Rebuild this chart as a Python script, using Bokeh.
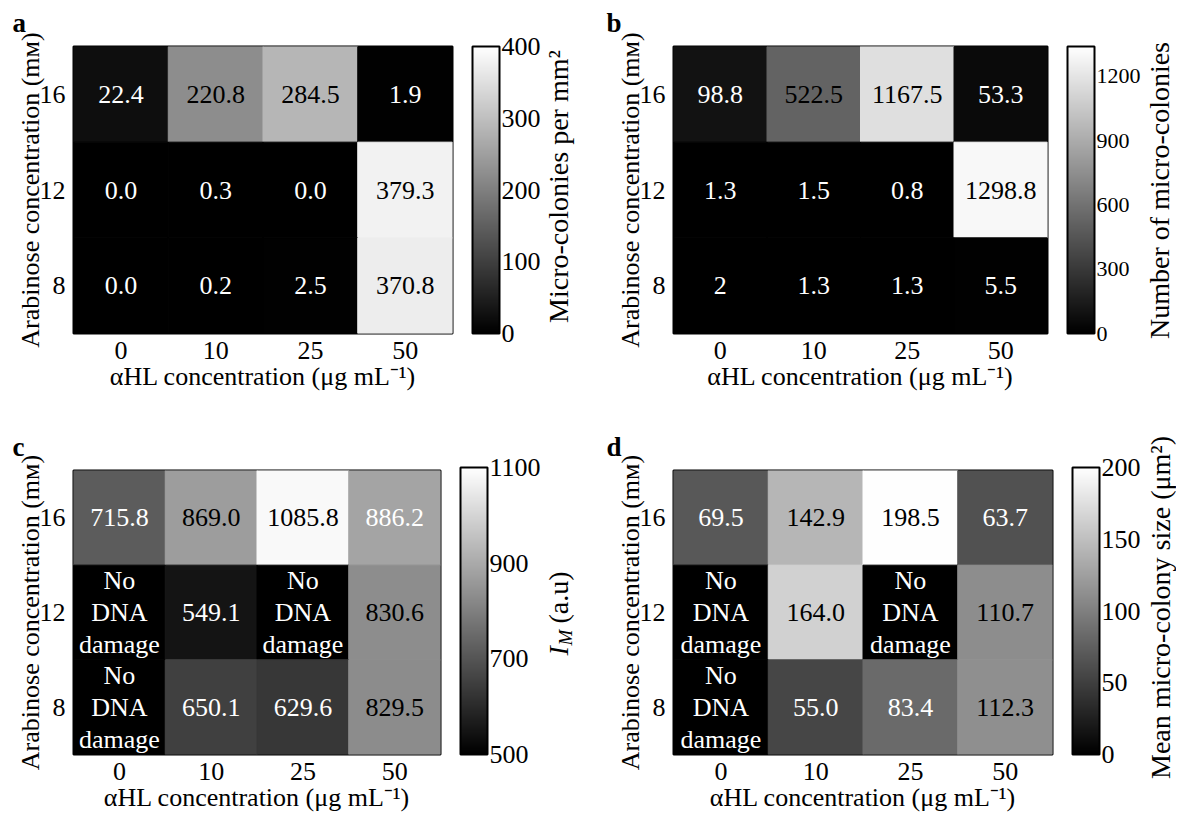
import numpy as np
from bokeh.plotting import figure
from bokeh.models import ColumnDataSource, LinearColorMapper, ColorBar, FixedTicker, Label, Range1d
from bokeh.palettes import gray
from bokeh.layouts import row, column
from bokeh.core.properties import value
from bokeh.embed import file_html
from bokeh.resources import INLINE

# ---------------- data ----------------
ahl_conc = ["0", "10", "25", "50"]          # x categories (µg/mL)
arabinose_conc = ["16", "12", "8"]          # y categories (mM), top to bottom

colonies_per_mm2 = [
    [22.4, 220.8, 284.5, 1.9],
    [0.0, 0.3, 0.0, 379.3],
    [0.0, 0.2, 2.5, 370.8],
]
num_colonies = [
    [98.8, 522.5, 1167.5, 53.3],
    [1.3, 1.5, 0.8, 1298.8],
    [2, 1.3, 1.3, 5.5],
]
intensity_im = [
    [715.8, 869.0, 1085.8, 886.2],
    [None, 549.1, None, 830.6],
    [None, 650.1, 629.6, 829.5],
]
mean_size = [
    [69.5, 142.9, 198.5, 63.7],
    [None, 164.0, None, 110.7],
    [None, 55.0, 83.4, 112.3],
]

a_ticks = [0, 100, 200, 300, 400]
b_ticks = [0, 300, 600, 900, 1200]
c_ticks = [500, 700, 900, 1100]
d_ticks = [0, 50, 100, 150, 200]
a_range = (0, 400)
b_range = (0, 1340)
c_range = (500, 1100)
d_range = (0, 200)

NO_DAMAGE = "No\nDNA\ndamage"

# ---------------- styles ----------------
W, B = "white", "black"
a_text = [[W, B, B, W], [W, W, W, B], [W, W, W, B]]
b_text = [[W, B, B, W], [W, W, W, B], [W, W, W, W]]
c_text = [[W, B, B, W], [W, W, W, B], [W, W, W, B]]
d_text = [[W, B, B, W], [W, B, W, B], [W, W, W, B]]

FONT = "Liberation Serif"
FW, FH = 381, 287
LEFT, TOP = 73, 46
MAIN_W = 543
ROW_H = [424, 390]
TW1 = 600 - MAIN_W          # 57
TW2 = 1176 - 600 - MAIN_W   # 33


def no_align(fig):
    if "frame_align" in fig.properties():
        fig.frame_align = False


def heatmap(letter, values, fmt, rng, ticks, tcolors, height, cb_tick_size, letter_off):
    arr = np.array(values, dtype=float)
    xs, ys, vs, labels, tcs = [], [], [], [], []
    for i, yv in enumerate(arabinose_conc):
        for j, xv in enumerate(ahl_conc):
            v = arr[i, j]
            xs.append(xv)
            ys.append(yv)
            vs.append(v)
            labels.append(NO_DAMAGE if np.isnan(v) else fmt(v))
            tcs.append(tcolors[i][j])
    src = ColumnDataSource(dict(x=xs, y=ys, v=np.array(vs), label=labels, tc=tcs))
    mapper = LinearColorMapper(palette=gray(256), low=rng[0], high=rng[1], nan_color="black")

    p = figure(x_range=ahl_conc, y_range=arabinose_conc[::-1], width=MAIN_W, height=height,
               output_backend="svg", toolbar_location=None, tools="",
               min_border_left=LEFT, min_border_right=MAIN_W - LEFT - FW,
               min_border_top=TOP, min_border_bottom=height - TOP - FH)
    no_align(p)
    p.rect(x="x", y="y", width=1, height=1, source=src,
           fill_color={"field": "v", "transform": mapper},
           line_color={"field": "v", "transform": mapper}, line_width=1)
    p.text(x="x", y="y", text="label", source=src, text_color="tc",
           text_align="center", text_baseline="middle",
           text_font=value(FONT), text_font_size="26px", text_line_height=1.1)

    p.grid.visible = False
    p.outline_line_color = "black"
    p.outline_line_width = 2
    p.background_fill_color = "white"
    p.border_fill_color = "white"

    for ax in (p.xaxis[0], p.yaxis[0]):
        ax.axis_line_color = None
        ax.major_tick_line_color = None
        ax.minor_tick_line_color = None
        ax.major_label_text_font = FONT
        ax.major_label_text_font_size = "26px"
        ax.major_label_text_color = "black"
        ax.axis_label_text_font = FONT
        ax.axis_label_text_font_size = "26px"
        ax.axis_label_text_font_style = "normal"
        ax.axis_label_text_color = "black"
    p.xaxis.axis_label = "αHL concentration (μg mL⁻¹)"
    p.yaxis.axis_label = "Arabinose concentration (mᴍ)"
    p.xaxis.major_label_standoff = 2
    p.xaxis.axis_label_standoff = 0
    p.yaxis.major_label_standoff = 2
    p.yaxis.axis_label_standoff = -8

    cb = ColorBar(color_mapper=mapper, width=27, height=FH, ticker=FixedTicker(ticks=ticks),
                  major_label_text_font=FONT, major_label_text_font_size=cb_tick_size,
                  major_label_text_color="black",
                  major_tick_line_color=None, minor_tick_line_color=None,
                  bar_line_color="black", bar_line_width=2, label_standoff=2,
                  padding=0, margin=0, location=(20, 0), border_line_color=None,
                  background_fill_color=None)
    p.add_layout(cb, "right")

    p.title.text = letter
    p.title.text_font = FONT
    p.title.text_font_size = "27px"
    p.title.text_font_style = "bold"
    p.title.text_color = "black"
    p.title.align = "left"
    p.title.vertical_align = "top"
    p.title.offset = letter_off
    p.title.standoff = 14
    return p


def title_fig(width, height, pieces):
    t = figure(width=width, height=height, output_backend="svg", toolbar_location=None, tools="",
               x_range=Range1d(0, width), y_range=Range1d(0, height),
               x_axis_location=None, y_axis_location=None,
               min_border_left=0, min_border_right=0, min_border_top=0, min_border_bottom=0)
    no_align(t)
    t.outline_line_color = None
    t.grid.visible = False
    t.background_fill_color = "white"
    t.border_fill_color = "white"
    for txt, x, y, size, style, align in pieces:
        t.add_layout(Label(x=x, y=height - y, text=txt, angle=90, angle_units="deg",
                           text_font=FONT, text_font_size=size, text_font_style=style,
                           text_color="black",
                           text_align=align, text_baseline="middle"))
    return t


fmt1 = lambda v: f"{v:.1f}"
fmtg = lambda v: f"{v:g}"

pa = heatmap("a", colonies_per_mm2, fmt1, a_range, a_ticks, a_text, ROW_H[0], "26px", -61)
pb = heatmap("b", num_colonies, fmtg, b_range, b_ticks, b_text, ROW_H[0], "22px", -67)
pc = heatmap("c", intensity_im, fmt1, c_range, c_ticks, c_text, ROW_H[1], "26px", -61)
pd = heatmap("d", mean_size, fmt1, d_range, d_ticks, d_text, ROW_H[1], "26px", -67)

ta = title_fig(TW1, ROW_H[0], [("Micro-colonies per mm²", 15, 186, "28px", "normal", "center")])
tb = title_fig(TW2, ROW_H[0], [("Number of micro-colonies", 16, 190, "28px", "normal", "center")])
tc = title_fig(TW1, ROW_H[1], [("I", 15, 231, "28px", "italic", "left"),
                               ("M", 22, 221, "19px", "italic", "left"),
                               ("(a.u)", 15, 199, "28px", "normal", "left")])
td = title_fig(TW2, ROW_H[1], [("Mean micro-colony size (μm²)", 17, 183, "28px", "normal", "center")])

layout = column(row(pa, ta, pb, tb), row(pc, tc, pd, td))
open("out.html", "w").write(file_html(layout, INLINE))
